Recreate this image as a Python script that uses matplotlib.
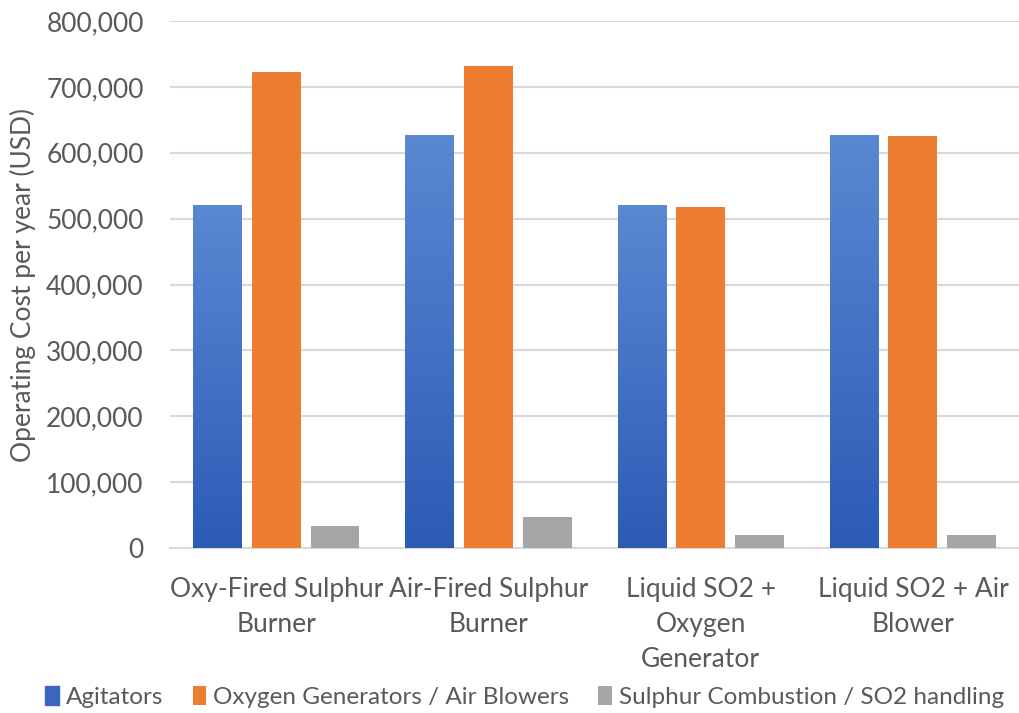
import matplotlib
matplotlib.use('Agg')
import matplotlib.pyplot as plt
import numpy as np
from matplotlib.ticker import FuncFormatter
from matplotlib.colors import LinearSegmentedColormap

plt.rcParams['font.family'] = ['Lato', 'DejaVu Sans']

categories = ['Oxy-Fired Sulphur\nBurner', 'Air-Fired Sulphur\nBurner',
              'Liquid SO2 +\nOxygen\nGenerator', 'Liquid SO2 + Air\nBlower']
series_names = ['Agitators', 'Oxygen Generators / Air Blowers',
                'Sulphur Combustion / SO2 handling']
agitators = [521000, 627000, 521000, 627000]
oxygen_blowers = [723000, 731000, 518000, 626000]
sulphur_so2 = [34000, 47000, 20000, 20000]

text_col = '#595959'
blue_top, blue_bot = '#5b88d2', '#2c5bb6'
orange = '#ED7D31'
gray = '#A5A5A5'

fig = plt.figure(figsize=(10.19, 7.13), dpi=100)
ax = fig.add_axes([0.167, 0.2314, 0.833, 0.7391])

x = np.arange(len(categories))
w = 0.23
step = 0.277

grad = LinearSegmentedColormap.from_list('bg', [blue_bot, blue_top])
bars_a = ax.bar(x - step, agitators, w, color=blue_top, zorder=3, label=series_names[0])
for b in bars_a:
    bx = b.get_x()
    im = ax.imshow(np.linspace(0, 1, 256).reshape(-1, 1), cmap=grad, origin='lower',
                   extent=(bx, bx + b.get_width(), 0, b.get_height()),
                   aspect='auto', zorder=3.5)
    im.set_clip_path(b)
ax.bar(x, oxygen_blowers, w, color=orange, zorder=3, label=series_names[1])
ax.bar(x + step, sulphur_so2, w, color=gray, zorder=3, label=series_names[2])

ax.set_xlim(-0.5, len(categories) - 0.5)
ax.set_ylim(0, 800000)
ax.set_yticks(np.arange(0, 800001, 100000))
ax.yaxis.set_major_formatter(FuncFormatter(lambda v, p: f'{int(v):,}'))
ax.grid(axis='y', color='#D9D9D9', linewidth=1.5, zorder=0)
ax.set_axisbelow(True)
for s in ['top', 'right', 'left']:
    ax.spines[s].set_visible(False)
ax.spines['bottom'].set_color('#D9D9D9')
ax.spines['bottom'].set_linewidth(1.5)

ax.set_xticks(x)
ax.set_xticklabels(categories, fontsize=19, color=text_col, linespacing=1.5)
ax.tick_params(axis='x', length=0, pad=21)
ax.tick_params(axis='y', length=0, labelsize=19, labelcolor=text_col, pad=19)
ax.set_ylabel('Operating Cost per year (USD)', fontsize=19, color=text_col)
ax.yaxis.set_label_coords(-0.158, 0.5)

handles, labels = ax.get_legend_handles_labels()
leg = fig.legend(handles, labels, loc='center', bbox_to_anchor=(0.515, 0.022), ncol=3,
                 frameon=False, fontsize=17.5, handlelength=0.55, handleheight=0.8,
                 handletextpad=0.3, columnspacing=1.2)
for t in leg.get_texts():
    t.set_color(text_col)
leg.legend_handles[0].set_color('#3a67c0')

fig.savefig('out.png', dpi=100)
